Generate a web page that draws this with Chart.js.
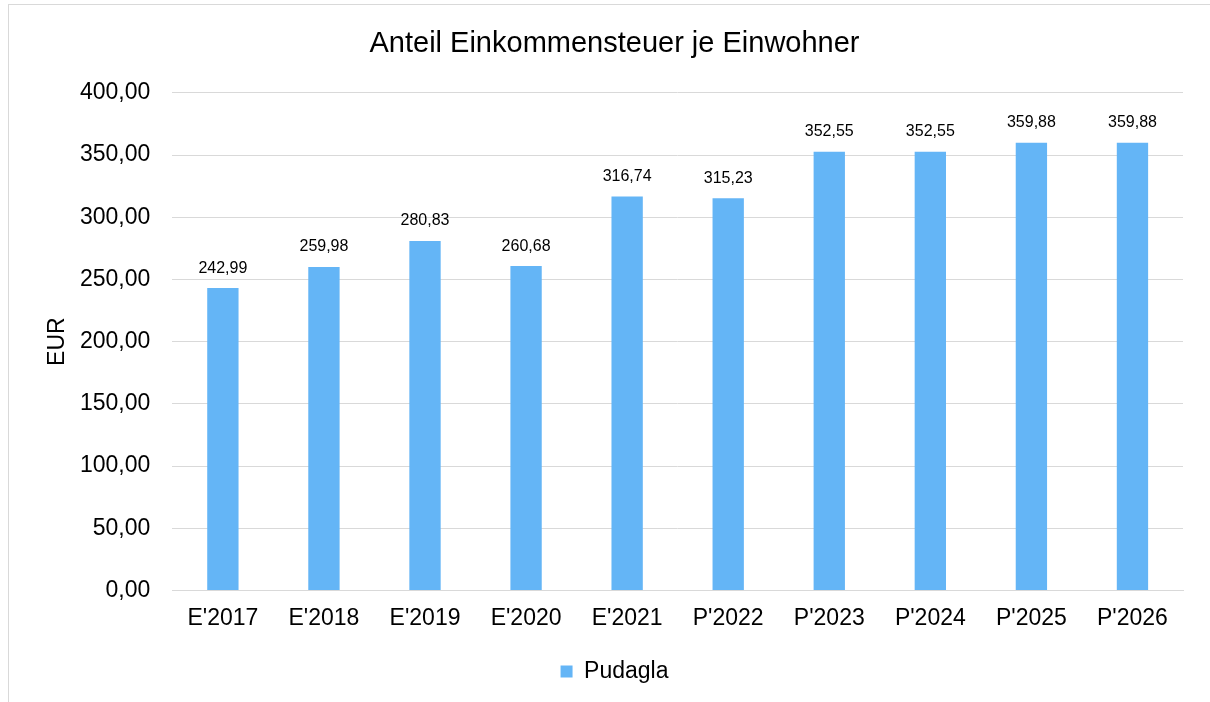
<!DOCTYPE html>
<html>
<head>
<meta charset="utf-8">
<script src="https://cdn.jsdelivr.net/npm/chart.js@4"></script>
<style>
  body { margin: 0; background: #fff; }
  #frame {
    position: absolute; left: 8px; top: 4px;
    width: 1210px; height: 702px;
    border: 1px solid #d9d9d9; box-sizing: border-box;
  }
  #wrap { position: absolute; left: -9px; top: -5px; width: 1210px; height: 702px; }
</style>
</head>
<body>
<div id="frame"><div id="wrap"><canvas id="chart" width="1210" height="702"></canvas></div></div>
<script>
/* --------------- Data --------------------- */
const categories = ["E'2017", "E'2018", "E'2019", "E'2020", "E'2021", "P'2022", "P'2023", "P'2024", "P'2025", "P'2026"];
const values = [242.99, 259.98, 280.83, 260.68, 316.74, 315.23, 352.55, 352.55, 359.88, 359.88];
const seriesName = "Pudagla";

const fontFamily = "'Liberation Sans', Arial, sans-serif";
const barColor = "#64b5f6";

const fmt = (v) => Number(v).toFixed(2).replace(".", ",");

/* --------------- Value labels above bars --------------------- */
const valueLabels = {
  id: "valueLabels",
  afterDatasetsDraw(chart) {
    const ctx = chart.ctx;
    const meta = chart.getDatasetMeta(0);
    ctx.save();
    ctx.font = "16px " + fontFamily;
    ctx.fillStyle = "#000";
    ctx.textAlign = "center";
    ctx.textBaseline = "middle";
    meta.data.forEach((bar, i) => {
      ctx.fillText(fmt(values[i]), bar.x, bar.y - 20);
    });
    ctx.restore();
  },
};

new Chart(document.getElementById("chart"), {
  type: "bar",
  plugins: [valueLabels],
  data: {
    labels: categories,
    datasets: [{
      label: seriesName,
      data: values,
      backgroundColor: barColor,
      borderWidth: 0,
      categoryPercentage: 1,
      barPercentage: 0.31,
    }],
  },
  options: {
    responsive: false,
    animation: false,
    layout: { padding: { left: 46, right: 27, top: 2, bottom: 9 } },
    plugins: {
      tooltip: { enabled: false },
      title: {
        display: true,
        text: "Anteil Einkommensteuer je Einwohner",
        color: "#000",
        font: { family: fontFamily, size: 29, weight: "normal" },
        padding: { top: 25, bottom: 31 },
      },
      legend: {
        position: "bottom",
        labels: {
          color: "#000",
          font: { family: fontFamily, size: 23 },
          boxWidth: 12,
          boxHeight: 12,
          padding: 6,
        },
      },
    },
    scales: {
      x: {
        grid: { display: false },
        border: { color: "#d9d9d9", width: 1 },
        ticks: {
          color: "#000",
          font: { family: fontFamily, size: 23 },
          padding: 6,
          maxRotation: 0,
        },
        afterFit(scale) {
          scale.height += 16;
        },
      },
      y: {
        min: 0,
        max: 400,
        grid: { color: "#d9d9d9", lineWidth: 1, drawTicks: false },
        border: { display: false },
        title: {
          display: true,
          text: "EUR",
          color: "#000",
          font: { family: fontFamily, size: 23, lineHeight: 1 },
          padding: { top: 0, bottom: 9 },
        },
        ticks: {
          stepSize: 50,
          color: "#000",
          font: { family: fontFamily, size: 23 },
          padding: 22,
          callback: (v) => fmt(v),
        },
        afterFit(scale) {
          scale.width -= 20;
        },
      },
    },
  },
});
</script>
</body>
</html>
